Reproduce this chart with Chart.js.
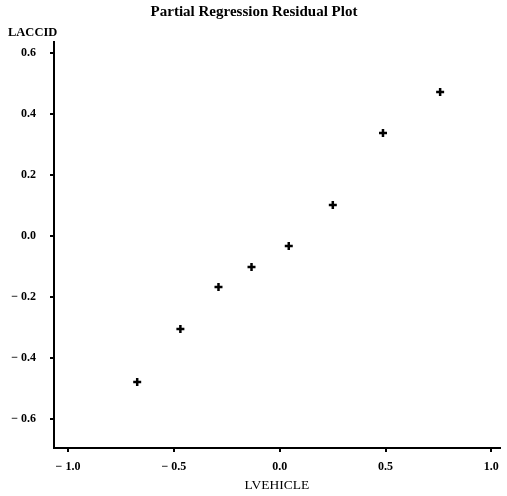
<!DOCTYPE html>
<html>
<head>
<meta charset="utf-8">
<script src="https://cdn.jsdelivr.net/npm/chart.js@4.4.0/dist/chart.umd.min.js"></script>
<style>
  html, body { margin: 0; padding: 0; background: #fff; }
  #wrap { width: 507px; height: 496px; }
</style>
</head>
<body>
<div id="wrap"><canvas id="myChart" width="507" height="496"></canvas></div>
<script>
// values
const lvehicle = [-0.673, -0.469, -0.289, -0.133, 0.043, 0.251, 0.488, 0.758];
const laccid = [-0.479, -0.305, -0.167, -0.102, -0.033, 0.102, 0.338, 0.472];

const xTicks = [-1.0, -0.5, 0.0, 0.5, 1.0];
const yTicks = [-0.6, -0.4, -0.2, 0.0, 0.2, 0.4, 0.6];

const points = [];
for (let i = 0; i < lvehicle.length; i++) {
    points.push({ x: lvehicle[i], y: laccid[i] });
}

const serif = '"Liberation Serif", "DejaVu Serif", serif';

function fmt(v) {
    return v.toFixed(1).replace('-', '\u2212 ');
}

var ctx = document.getElementById('myChart').getContext('2d');

var myChart = new Chart(ctx, {
    type: 'scatter',
    data: {
        datasets: [
            {
                label: 'residuals',
                data: points,
                pointStyle: 'cross',
                pointRadius: 4,
                borderWidth: 2.5,
                borderColor: '#000',
                backgroundColor: '#000'
            }
        ]
    },
    options: {
        responsive: false,
        animation: false,
        layout: {
            padding: { left: 8, right: 7, top: 0, bottom: 2 }
        },
        plugins: {
            legend: { display: false },
            tooltip: { enabled: false },
            title: {
                display: true,
                text: 'Partial Regression Residual Plot',
                color: '#000',
                font: { family: serif, size: 15, weight: 'bold' },
                padding: { top: 3, bottom: 4 }
            },
            subtitle: {
                display: true,
                text: 'LACCID',
                align: 'start',
                color: '#000',
                font: { family: serif, size: 12.5, weight: 'bold' },
                padding: { top: 0, bottom: 2 }
            }
        },
        scales: {
            x: {
                type: 'linear',
                min: -1.066,
                max: 1.04,
                afterBuildTicks: (scale) => {
                    scale.ticks = xTicks.map(v => ({ value: v }));
                },
                afterFit: (scale) => {
                    scale.height = 46;
                },
                grid: {
                    drawOnChartArea: false,
                    drawTicks: true,
                    tickLength: 4,
                    color: '#000',
                    lineWidth: 2
                },
                border: { color: '#000', width: 2 },
                ticks: {
                    color: '#000',
                    padding: 8,
                    font: { family: serif, size: 12, weight: 'bold' },
                    callback: (v) => fmt(v)
                },
                title: {
                    display: true,
                    text: 'LVEHICLE',
                    color: '#000',
                    font: { family: serif, size: 13.5 },
                    padding: { top: 6, bottom: 0 }
                }
            },
            y: {
                type: 'linear',
                min: -0.695,
                max: 0.636,
                afterBuildTicks: (scale) => {
                    scale.ticks = yTicks.map(v => ({ value: v }));
                },
                afterFit: (scale) => {
                    scale.width = 46;
                },
                grid: {
                    drawOnChartArea: false,
                    drawTicks: true,
                    tickLength: 4,
                    color: '#000',
                    lineWidth: 2
                },
                border: { color: '#000', width: 2 },
                ticks: {
                    color: '#000',
                    padding: 14,
                    font: { family: serif, size: 12, weight: 'bold' },
                    callback: (v) => fmt(v)
                }
            }
        }
    }
});
</script>
</body>
</html>
